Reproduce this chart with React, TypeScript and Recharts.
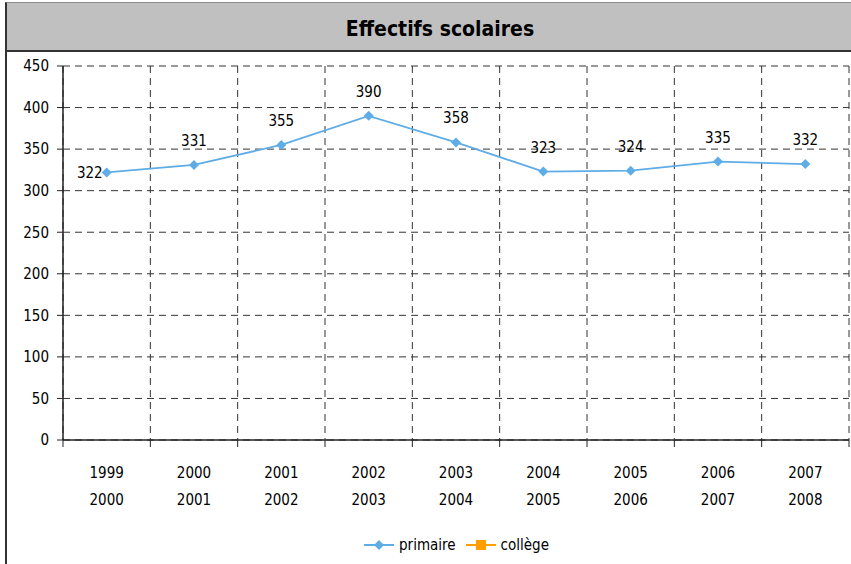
import React from "react";
import {
  LineChart,
  Line,
  XAxis,
  YAxis,
  CartesianGrid,
  LabelList,
} from "recharts";

const years: string[][] = [
  ["1999", "2000"],
  ["2000", "2001"],
  ["2001", "2002"],
  ["2002", "2003"],
  ["2003", "2004"],
  ["2004", "2005"],
  ["2005", "2006"],
  ["2006", "2007"],
  ["2007", "2008"],
];
const primaire: number[] = [322, 331, 355, 390, 358, 323, 324, 335, 332];
const college: (number | null)[] = [null, null, null, null, null, null, null, null, null];
const yTicks: number[] = [0, 50, 100, 150, 200, 250, 300, 350, 400, 450];

// x sits in the middle of each category band, gridlines on the band edges
const data = years.map((y, i) => ({
  x: i + 0.5,
  label: y,
  primaire: primaire[i],
  college: college[i],
}));
const xTicks = years.map((_, i) => i).concat([years.length]);

const FONT = "'DejaVu Sans Condensed', 'DejaVu Sans', sans-serif";
const W = 851;
const H = 564;
const PLOT_LEFT = 63;
const PLOT_RIGHT = 849;
const BAND = (PLOT_RIGHT - PLOT_LEFT) / years.length;

const BLUE = "#5fade6";
const ORANGE = "#ff9e00";

const XTick = (props: any) => {
  const { x, y, payload } = props;
  const lines = years[payload.value];
  if (!lines) return null;
  return (
    <text
      x={x + BAND / 2}
      y={y}
      textAnchor="middle"
      fontFamily={FONT}
      fontStretch="condensed"
      fontSize={15}
      fill="#000"
    >
      <tspan x={x + BAND / 2} dy={29}>
        {lines[0]}
      </tspan>
      <tspan x={x + BAND / 2} dy={27}>
        {lines[1]}
      </tspan>
    </text>
  );
};

const ValueLabel = (props: any) => {
  const { x, y, value, index } = props;
  if (value == null) return null;
  if (index === 0) {
    return (
      <text x={x - 4} y={y + 6} textAnchor="end" fontFamily={FONT} fontSize={15} fill="#000">
        {value}
      </text>
    );
  }
  return (
    <text x={x} y={y - 19} textAnchor="middle" fontFamily={FONT} fontSize={15} fill="#000">
      {value}
    </text>
  );
};

const Diamond = (props: any) => {
  const { cx, cy } = props;
  if (cx == null || cy == null) return null;
  return (
    <path
      d={`M${cx},${cy - 5} L${cx + 5},${cy} L${cx},${cy + 5} L${cx - 5},${cy} Z`}
      fill={BLUE}
    />
  );
};

const LegendBox = () => (
  <div
    style={{
      position: "absolute",
      left: 0,
      top: 536,
      width: W,
      display: "flex",
      justifyContent: "center",
      alignItems: "center",
      fontFamily: FONT,
      fontStretch: "condensed",
      fontSize: 15,
      color: "#000",
      gap: 10,
      paddingLeft: 62,
      boxSizing: "border-box",
    }}
  >
    <span style={{ display: "flex", alignItems: "center" }}>
      <svg width={30} height={12} style={{ marginRight: 5 }}>
        <line x1={0} y1={6} x2={30} y2={6} stroke={BLUE} strokeWidth={2} />
        <path d="M15,1 L20,6 L15,11 L10,6 Z" fill={BLUE} />
      </svg>
      primaire
    </span>
    <span style={{ display: "flex", alignItems: "center" }}>
      <svg width={30} height={12} style={{ marginRight: 5 }}>
        <line x1={0} y1={6} x2={30} y2={6} stroke={ORANGE} strokeWidth={2} />
        <rect x={10} y={1} width={10} height={10} fill={ORANGE} />
      </svg>
      collège
    </span>
  </div>
);

export default function App() {
  return (
    <div
      style={{
        position: "absolute",
        left: 0,
        top: 0,
        width: W,
        height: H,
        background: "#fff",
        overflow: "hidden",
      }}
    >
      <div
        style={{
          position: "absolute",
          left: 5,
          top: 2,
          width: W - 5,
          height: 50,
          background: "#c0c0c0",
          borderTop: "1px solid #8a8a8a",
          borderBottom: "2px solid #333",
          borderLeft: "2px solid #333",
          boxSizing: "border-box",
          display: "flex",
          alignItems: "center",
          justifyContent: "center",
          fontFamily: FONT,
          fontStretch: "condensed",
          fontWeight: "bold",
          fontSize: 21,
          color: "#000",
          paddingLeft: 22,
          paddingTop: 4,
        }}
      >
        Effectifs scolaires
      </div>
      <div
        style={{
          position: "absolute",
          left: 5,
          top: 52,
          width: 2,
          height: H - 52,
          background: "#333",
        }}
      />
      <div style={{ position: "absolute", left: 0, top: 0 }}>
        <LineChart
          width={W}
          height={H}
          data={data}
          margin={{ top: 66, right: W - PLOT_RIGHT, left: 8, bottom: 64 }}
        >
          <CartesianGrid
            stroke="#333"
            strokeDasharray="7 5"
            horizontalValues={yTicks}
            verticalValues={xTicks}
          />
          <XAxis
            dataKey="x"
            type="number"
            domain={[0, years.length]}
            ticks={xTicks}
            interval={0}
            tick={<XTick />}
            tickSize={7}
            tickLine={{ stroke: "#222" }}
            axisLine={{ stroke: "#222", strokeWidth: 1.5 }}
            height={60}
          />
          <YAxis
            domain={[0, 450]}
            ticks={yTicks}
            interval={0}
            width={55}
            tickSize={6}
            tickLine={{ stroke: "#222" }}
            axisLine={{ stroke: "#222", strokeWidth: 1.5 }}
            tick={{ fontFamily: FONT, fontSize: 15, fill: "#000", dx: -6 }}
          />
          <Line
            type="linear"
            dataKey="primaire"
            stroke={BLUE}
            strokeWidth={1.8}
            dot={<Diamond />}
            activeDot={false}
            isAnimationActive={false}
          >
            <LabelList dataKey="primaire" content={<ValueLabel />} />
          </Line>
          <Line
            type="linear"
            dataKey="college"
            stroke={ORANGE}
            strokeWidth={1.8}
            dot={false}
            isAnimationActive={false}
          />
        </LineChart>
      </div>
      <LegendBox />
    </div>
  );
}
